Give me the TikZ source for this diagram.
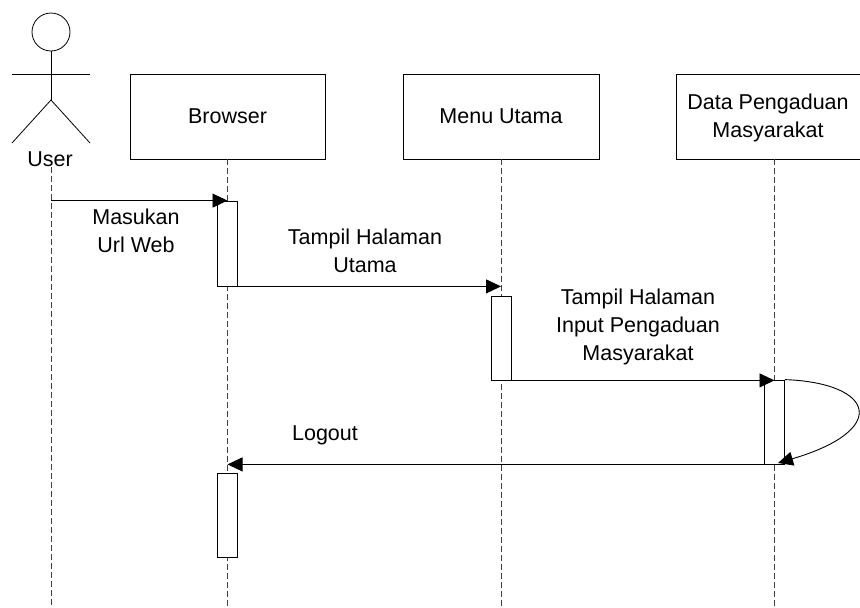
\documentclass[tikz,border=0pt]{standalone}
\usepackage{fontspec}
\setmainfont{Liberation Sans}
\usetikzlibrary{arrows.meta}
\begin{document}
\begin{tikzpicture}[x=1pt,y=-1pt,
 every node/.style={font=\fontsize{21.5}{28}\selectfont, inner sep=0pt},
 box/.style={draw, line width=0.8pt, minimum width=195pt, minimum height=85pt},
 life/.style={dash pattern=on 6pt off 3pt, line width=0.8pt, black!75},
 bar/.style={draw, fill=white, line width=0.8pt, minimum width=20pt, minimum height=84pt},
 msg/.style={line width=0.9pt, -{Triangle[length=15pt,width=14pt]}},
 limb/.style={line width=0.8pt},
 lbl/.style={align=center}]
\useasboundingbox (0,0) rectangle (860,608);
\clip (0,0) rectangle (860,608);

% actor
\node (head) [draw, circle, minimum size=38pt, line width=0.8pt] at (51,32) {};
\coordinate (hip) at (51,100);
\coordinate (larm) at (12,74);
\coordinate (rarm) at (90,74);
\coordinate (lleg) at (12,143);
\coordinate (rleg) at (90,143);
\draw[limb] (head.south) -- (hip);
\draw[limb] (larm) -- (rarm);
\draw[limb] (lleg) -- (hip) -- (rleg);
\node (user) at (50,159) {User};
\coordinate (utop) at (51,167);
\coordinate (ubot) at (51,608);

% objects
\node[box] (browser) at (227.5,116.5) {Browser};
\node[box, minimum width=196pt] (menu) at (501,116.5) {Menu Utama};
\node[box, minimum width=196pt] (data) at (774.5,116.5) {};
\node[lbl] (datalbl) at (768,118) {Data Pengaduan\\Masyarakat};

\coordinate (bbot) at (browser.south |- ubot);
\coordinate (mbot) at (menu.south |- ubot);
\coordinate (dbot) at (data.south |- ubot);

% lifelines
\draw[life] (utop) -- (ubot);
\draw[life] (browser.south) -- (bbot);
\draw[life] (menu.south) -- (mbot);
\draw[life] (data.south) -- (dbot);

% activation bars
\node[bar, minimum height=85pt] (act1) at (227.5,243.5) {};
\node[bar] (act2) at (501.5,338) {};
\node[bar] (act3) at (774.5,422) {};
\node[bar] (act4) at (227.5,515) {};

% messages
\draw[msg] (act1.north -| utop) -- (act1.north);
\node[lbl] (m1) at (136,231) {Masukan\\Url Web};

\draw[msg] (act1.south) -- (act1.south -| menu.south);
\node[lbl] (m2) at (365,250.5) {Tampil Halaman\\Utama};

\draw[msg] (act2.south -| menu.south) -- (act2.south -| data.south);
\node[lbl] (m3) at (638,327) {Tampil Halaman\\Input Pengaduan\\Masyarakat};

\coordinate (selfend) at (778,463);
\draw[msg] (act3.north east) .. controls (875,383) and (890,430) .. (selfend);

\draw[msg] (act3.south west) -- (act3.south west -| browser.south);
\node (m4) at (325,435) {Logout};
\end{tikzpicture}
\end{document}
